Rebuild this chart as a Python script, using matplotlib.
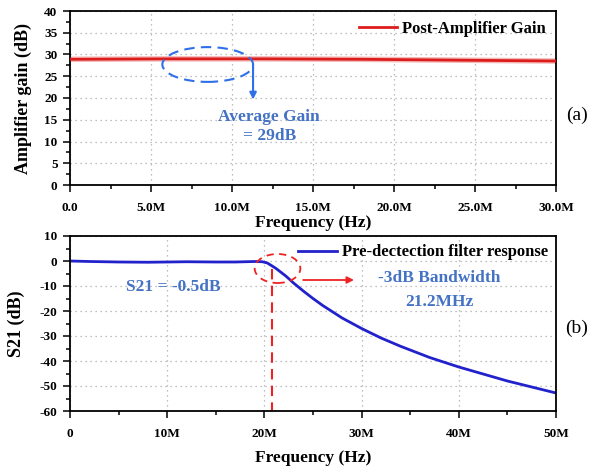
import numpy as np
import matplotlib
matplotlib.use("Agg")
import matplotlib.pyplot as plt
from matplotlib.patches import Ellipse

plt.rcParams['font.family'] = ['Liberation Serif', 'DejaVu Serif']
plt.rcParams['font.weight'] = 'bold'
plt.rcParams['axes.unicode_minus'] = False

# (a) post-amplifier gain, frequency in MHz
amp_freq = [0, 3, 6, 9, 12, 15, 18, 21, 24, 27, 30]
amp_gain = [28.9, 28.95, 29.0, 29.0, 29.0, 28.95, 28.9, 28.8, 28.7, 28.6, 28.5]
amp_xticks = [0, 5, 10, 15, 20, 25, 30]
amp_xlabels = ['0.0', '5.0M', '10.0M', '15.0M', '20.0M', '25.0M', '30.0M']
amp_yticks = [0, 5, 10, 15, 20, 25, 30, 35, 40]

# (b) pre-detection filter S21, frequency in MHz
flt_freq = [0, 2, 5, 8, 10, 12, 15, 17, 19, 19.8, 20.3, 20.8, 21.2, 21.7, 22.2, 23, 24, 25,
            26, 28, 30, 32, 34, 37, 40, 45, 50]
flt_s21 = [0, -0.2, -0.4, -0.5, -0.4, -0.3, -0.4, -0.4, -0.2, -0.3, -0.8, -2.0, -3.0, -4.5,
           -6.0, -8.8, -12.0, -15.0, -17.8, -22.8, -27.0, -30.8, -34.1, -38.6, -42.4,
           -48.0, -52.8]
flt_xticks = [0, 10, 20, 30, 40, 50]
flt_xlabels = ['0', '10M', '20M', '30M', '40M', '50M']
flt_yticks = [-60, -50, -40, -30, -20, -10, 0, 10]

txt_blue = '#4472c4'

fig = plt.figure(figsize=(5.93, 4.71), dpi=100)
ax1 = fig.add_axes([70/593, 1-185/471, 486/593, 174/471])
ax2 = fig.add_axes([70/593, 1-411/471, 486/593, 175/471])


def style(ax):
    ax.grid(True, which='major', linestyle=(0, (1, 3)), color='#aaaaaa', linewidth=0.9)
    ax.tick_params(which='both', direction='out', labelsize=9.5)
    ax.tick_params(which='major', length=5, width=1.1, pad=4)
    ax.tick_params(which='minor', length=3, width=1.1)
    ax.tick_params(axis='x', which='major', pad=7)
    for s in ax.spines.values():
        s.set_linewidth(1.3)
    for lab in ax.get_xticklabels() + ax.get_yticklabels():
        lab.set_fontweight('bold')


# top panel
ax1.plot(amp_freq, amp_gain, color='#f4b8b8', linewidth=4, zorder=2)
ax1.plot(amp_freq, amp_gain, color='#dd1c1c', linewidth=2, label='Post-Amplifier Gain', zorder=3)
ax1.set_xlim(0, 30)
ax1.set_ylim(0, 40)
ax1.set_xticks(amp_xticks)
ax1.set_xticklabels(amp_xlabels)
ax1.set_xticks([2.5, 7.5, 12.5, 17.5, 22.5, 27.5], minor=True)
ax1.set_yticks(amp_yticks)
ax1.set_yticks(np.arange(2.5, 40, 5), minor=True)
ax1.set_xlabel('Frequency (Hz)', fontsize=12.5, fontweight='bold')
ax1.set_ylabel('Amplifier gain (dB)', fontsize=13, fontweight='bold')
ax1.xaxis.set_label_coords(0.5, -0.172)
ax1.yaxis.set_label_coords(-0.078, 0.5)
style(ax1)
ax1.legend(loc='upper right', frameon=False, fontsize=12, handlelength=2.3,
           handletextpad=0.3, borderaxespad=0.2)
ax1.add_patch(Ellipse((8.5, 27.7), 5.6, 8, fill=False, edgecolor='#2f6fe8',
                      linestyle=(0, (5, 3)), linewidth=1.5, zorder=4))
ax1.annotate('', xy=(11.3, 19), xytext=(11.3, 28.3),
             arrowprops=dict(arrowstyle='-|>', color='#2f6fe8', lw=1.5, mutation_scale=10))
ax1.text(12.3, 13.5, 'Average Gain\n= 29dB', color=txt_blue, fontsize=12.5,
         fontweight='bold', ha='center', va='center', linespacing=1.25)
fig.text(577/593, 1-115/471, '(a)', fontsize=14, fontweight='normal', ha='center', va='center')

# bottom panel
ax2.plot(flt_freq, flt_s21, color='#2222cc', linewidth=2, label='Pre-dectection filter response')
ax2.set_xlim(0, 50)
ax2.set_ylim(-60, 10)
ax2.set_xticks(flt_xticks)
ax2.set_xticklabels(flt_xlabels)
ax2.set_xticks([5, 15, 25, 35, 45], minor=True)
ax2.set_yticks(flt_yticks)
ax2.set_yticks(np.arange(-55, 10, 5), minor=True)
ax2.set_xlabel('Frequency (Hz)', fontsize=12.5, fontweight='bold')
ax2.set_ylabel('S21 (dB)', fontsize=13, fontweight='bold')
ax2.xaxis.set_label_coords(0.5, -0.222)
ax2.yaxis.set_label_coords(-0.093, 0.5)
style(ax2)
ax2.legend(loc='upper right', frameon=False, fontsize=12, handlelength=2.3,
           handletextpad=0.3, borderaxespad=0.1)
ax2.add_patch(Ellipse((21.35, -3), 4.7, 11.6, fill=False, edgecolor='#ee2222',
                      linestyle=(0, (4, 3)), linewidth=1.3, zorder=4))
ax2.plot([20.8, 20.8], [-3, -60], color='#ee2222', linestyle=(0, (5, 3)), linewidth=1.5)
ax2.annotate('', xy=(29.5, -7.6), xytext=(23.7, -7.6),
             arrowprops=dict(arrowstyle='-|>', color='#ee2222', lw=1.3, mutation_scale=10))
ax2.text(38, -6.8, '-3dB Bandwidth', color=txt_blue, fontsize=12.5, fontweight='bold',
         ha='center', va='center')
ax2.text(38, -16.4, '21.2MHz', color=txt_blue, fontsize=12.5, fontweight='bold',
         ha='center', va='center')
ax2.text(10.6, -10.4, 'S21 = -0.5dB', color=txt_blue, fontsize=12.5, fontweight='bold',
         ha='center', va='center')
fig.text(577/593, 1-328/471, '(b)', fontsize=14, fontweight='normal', ha='center', va='center')

fig.savefig('out.png', dpi=100)
